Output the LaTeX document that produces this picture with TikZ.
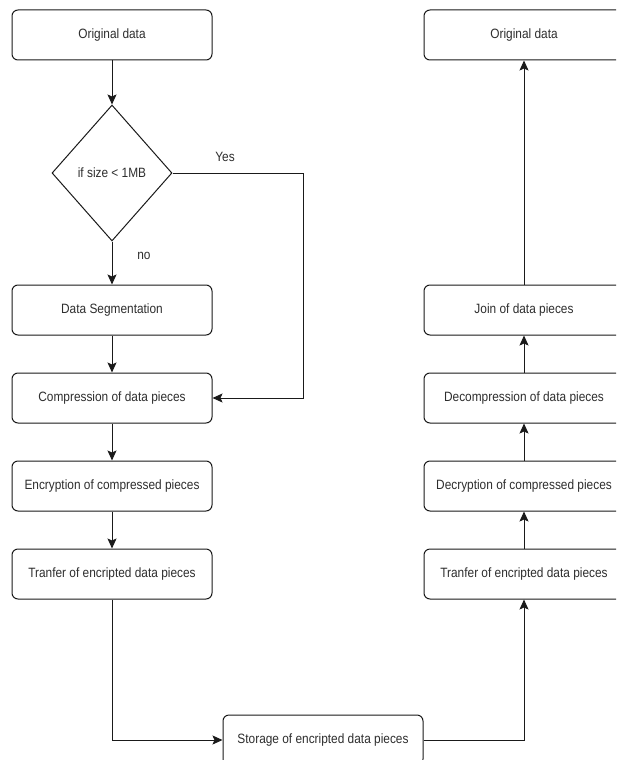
\documentclass[tikz,border=0pt]{standalone}
\usepackage{fontspec}
\setmainfont{Liberation Sans}
\newfontfamily\boxfont[FakeStretch=0.88]{Liberation Sans}
\usetikzlibrary{arrows.meta,shapes.geometric}
\definecolor{ink}{HTML}{1A1A1A}
\definecolor{txt}{HTML}{2E2E2E}
\tikzset{
  textstyle/.style={text=txt, font=\boxfont\fontsize{13.5}{15}\selectfont},
  stepbox/.style={draw=ink, line width=1pt, rounded corners=6pt, fill=white,
    minimum width=200pt, minimum height=50pt, inner sep=0pt, textstyle},
  decide/.style={draw=ink, line width=1pt, diamond, fill=white, inner sep=0pt,
    minimum width=120pt, minimum height=136pt, textstyle},
  flow/.style={draw=ink, line width=1pt,
    -{Stealth[length=10pt,width=9pt,inset=2pt]}},
  lbl/.style={textstyle}
}
\begin{document}
\begin{tikzpicture}[x=1pt,y=-1pt]
  \useasboundingbox (0,0) rectangle (616,760);
  \clip (0,0) rectangle (616,760);
  \fill[white] (0,0) rectangle (616,760);

  % sending side
  \node[stepbox] (orig)  at (112,35)  {Original data};
  \node[decide]  (size)  at (112,173) {if size < 1MB};
  \node[stepbox] (seg)   at (112,310) {Data Segmentation};
  \node[stepbox] (comp)  at (112,398) {Compression of data pieces};
  \node[stepbox] (enc)   at (112,486) {Encryption of compressed pieces};
  \node[stepbox] (tx)    at (112,574) {Tranfer of encripted data pieces};

  % storage
  \node[stepbox] (store) at (323,740) {Storage of encripted data pieces};

  % receiving side
  \node[stepbox] (rtx)    at (524,574) {Tranfer of encripted data pieces};
  \node[stepbox] (dec)    at (524,486) {Decryption of compressed pieces};
  \node[stepbox] (decomp) at (524,398) {Decompression of data pieces};
  \node[stepbox] (join)   at (524,310) {Join of data pieces};
  \node[stepbox] (rorig)  at (524,35)  {Original data};

  % connectors
  \coordinate (bend) at (303,173);
  \draw[flow] (orig) -- (size);
  \draw[flow] (size) -- (seg);
  \draw[flow] (size.east) -- (bend) |- (comp.east);
  \draw[flow] (seg) -- (comp);
  \draw[flow] (comp) -- (enc);
  \draw[flow] (enc) -- (tx);
  \draw[flow] (tx.south) |- (store.west);
  \draw[flow] (store.east) -| (rtx.south);
  \draw[flow] (rtx) -- (dec);
  \draw[flow] (dec) -- (decomp);
  \draw[flow] (decomp) -- (join);
  \draw[flow] (join) -- (rorig);

  \node[lbl] at (225,157) {Yes};
  \node[lbl] at (144,256) {no};
\end{tikzpicture}
\end{document}
